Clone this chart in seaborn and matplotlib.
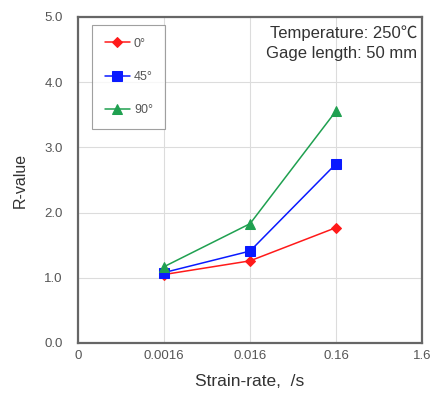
import matplotlib
matplotlib.use("Agg")
import matplotlib.pyplot as plt
import seaborn as sns
import pandas as pd

# Strain-rate categories (evenly spaced on the axis) and tick labels
tick_labels = ["0", "0.0016", "0.016", "0.16", "1.6"]
strain_rates = ["0.0016", "0.016", "0.16"]

# R-values for each tensile direction
r_0 = [1.05, 1.26, 1.77]
r_45 = [1.08, 1.41, 2.75]
r_90 = [1.17, 1.83, 3.56]

angles = ["0°", "45°", "90°"]
colors = {"0°": "#ff1a1a", "45°": "#0a1aff", "90°": "#1fa050"}
markers = {"0°": "D", "45°": "s", "90°": "^"}
sizes = {"0°": 5.5, "45°": 7, "90°": 7}

rows = []
for ang, vals in zip(angles, [r_0, r_45, r_90]):
    for sr, v in zip(strain_rates, vals):
        rows.append({"pos": tick_labels.index(sr), "R": v, "angle": ang})
df = pd.DataFrame(rows)

sns.set_style("white")
plt.rcParams["font.family"] = ["Liberation Sans", "DejaVu Sans"]

fig = plt.figure(figsize=(4.33, 3.98), dpi=100)
ax = fig.add_axes([0.180, 0.1382, 0.795, 0.8191])

for ang in angles:
    sns.lineplot(data=df[df["angle"] == ang], x="pos", y="R", color=colors[ang],
                 marker=markers[ang], markersize=sizes[ang], markeredgecolor=colors[ang],
                 linewidth=1.1, label=ang, ax=ax, zorder=3)

ax.set_xlim(0, 4)
ax.set_ylim(0, 5)
ax.set_xticks(range(len(tick_labels)))
ax.set_xticklabels(tick_labels)
ax.set_yticks([0, 1, 2, 3, 4, 5])
ax.set_yticklabels([f"{v:.1f}" for v in [0, 1, 2, 3, 4, 5]])
ax.grid(True, color="#dcdcdc", linewidth=0.8)
ax.tick_params(axis="both", labelsize=9.5, labelcolor="#555555", length=0)
ax.tick_params(axis="x", pad=5)
ax.tick_params(axis="y", pad=11)

for s in ax.spines.values():
    s.set_color("#666666")
    s.set_linewidth(1.6)

ax.set_xlabel("Strain-rate,  /s", fontsize=12.5, color="#333333", labelpad=9)
ax.set_ylabel("R-value", fontsize=11.5, color="#333333", labelpad=12)

leg = ax.legend(loc="upper left", bbox_to_anchor=(0.041, 0.975), fontsize=9,
                frameon=True, fancybox=False, edgecolor="#888888",
                labelspacing=1.7, handlelength=2.0, borderpad=1.0,
                borderaxespad=0, handletextpad=0.35)
leg.get_frame().set_linewidth(0.8)
for t in leg.get_texts():
    t.set_color("#555555")

ax.text(0.986, 0.975, "Temperature: 250℃\nGage length: 50 mm", transform=ax.transAxes,
        ha="right", va="top", fontsize=12, color="#333333", linespacing=1.45,
        family=["Liberation Sans", "Noto Sans CJK SC", "DejaVu Sans"])

fig.savefig("out.png", dpi=100)
